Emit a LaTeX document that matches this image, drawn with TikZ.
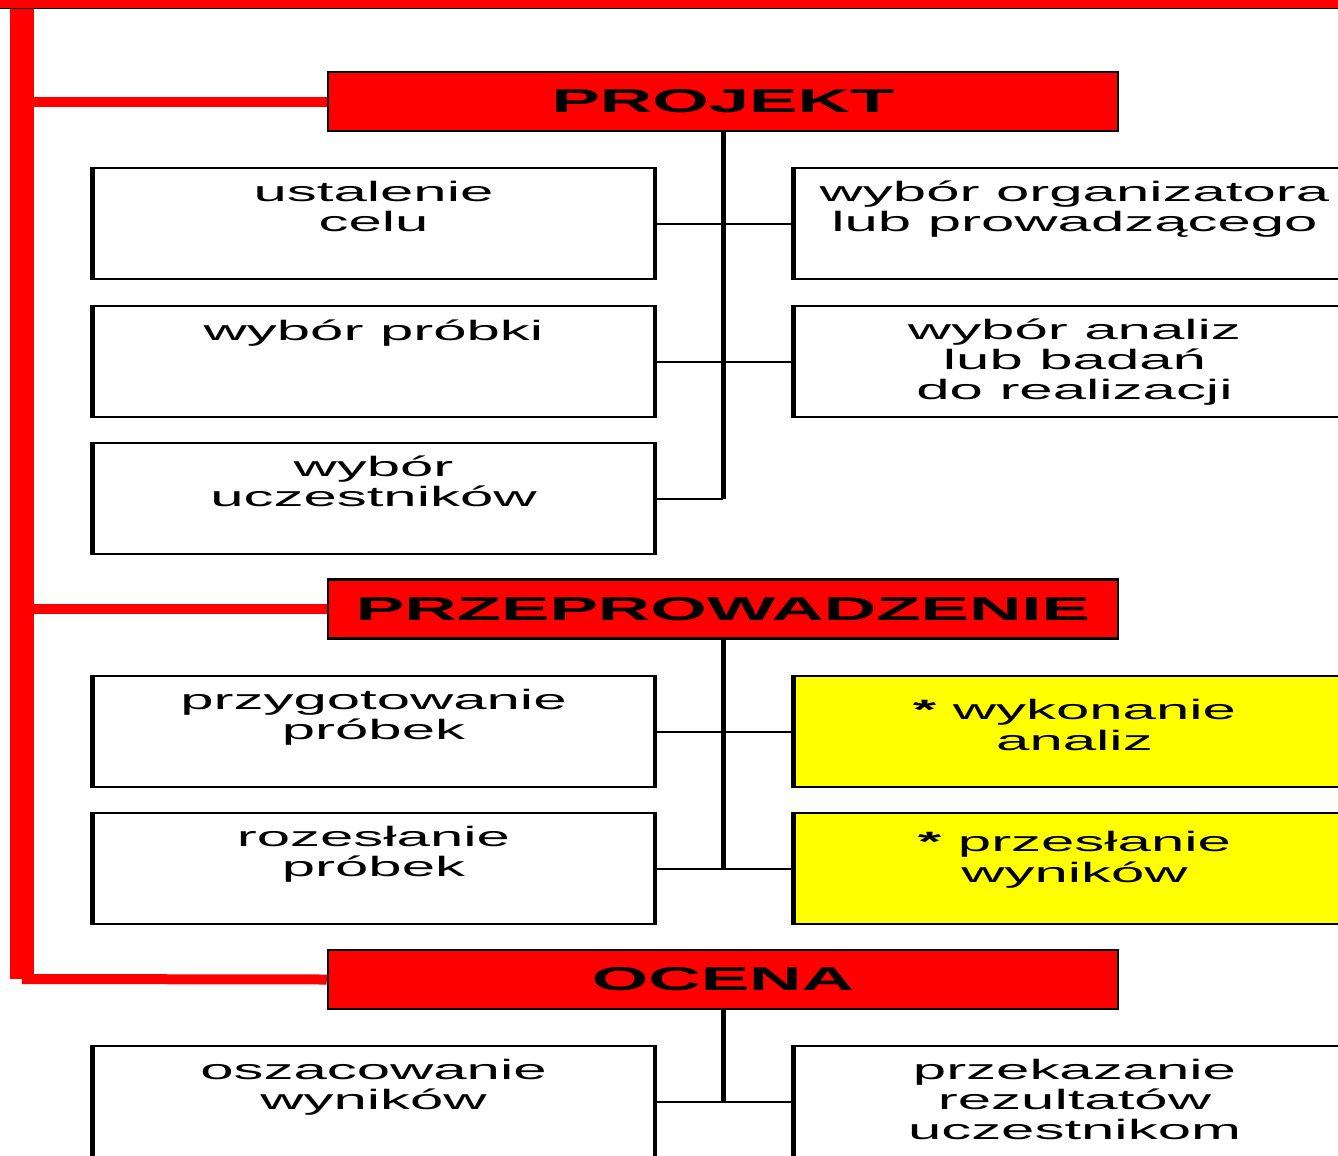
\documentclass[tikz,border=0pt]{standalone}
\usepackage{fontspec}
\usetikzlibrary{positioning}
\newfontfamily\taskfont[FakeStretch=2.14]{Liberation Sans}
\newfontfamily\headfont[FakeStretch=2.2]{Liberation Sans}
\definecolor{phasered}{RGB}{255,0,0}
\definecolor{keyyellow}{RGB}{255,255,0}

\begin{document}
\begin{tikzpicture}[
        x=1pt, y=-1pt,
        line width=2pt,
        head/.style={draw, fill=phasered, line width=2.5pt, minimum width=790pt, minimum height=59pt, inner sep=0pt,
            font=\headfont\fontsize{33}{36}\selectfont\bfseries},
        taskbox/.style={draw, fill=white, anchor=north west, minimum width=565pt, minimum height=111pt, inner sep=0pt,
            path picture={\draw[line width=7pt] (path picture bounding box.north west) -- (path picture bounding box.south west)
                (path picture bounding box.north east) -- (path picture bounding box.south east);}},
        tasktext/.style={anchor=north, align=center, inner sep=0pt, yshift=-13pt,
            font=\taskfont\fontsize{28}{30}\selectfont, execute at begin node=\strut},
        redline/.style={draw=phasered, line width=10pt},
        trunk/.style={line width=5pt}
    ]

    \clip (0,0) rectangle (1338,1156);

    % Red frame
    \fill[phasered] (-5,-5) rectangle (1343,8);
    \draw[line width=1.5pt] (-5,8.5) -- (1343,8.5);
    \coordinate (railtop) at (22,9);
    \coordinate (railbot) at (22,979);
    \draw[phasered, line width=24pt] (railtop) -- (railbot);

    % Phases
    \node[head] (projekt) at (723,101.5) {PROJEKT};
    \node[head] (prep) at (723,609) {PRZEPROWADZENIE};
    \node[head] (ocena) at (723,979.5) {OCENA};

    % Tasks
    \node[taskbox, label={[tasktext]north:{ustalenie\\celu}}] (cel) at (90,167) {};
    \node[taskbox, label={[tasktext]north:{wybór próbki}}] (proba) at (90,305) {};
    \node[taskbox, label={[tasktext]north:{wybór\\uczestników}}] (ucz) at (90,442) {};
    \node[taskbox, label={[tasktext]north:{wybór organizatora\\lub prowadzącego}}] (org) at (791,167) {};
    \node[taskbox, label={[tasktext]north:{wybór analiz\\lub badań\\do realizacji}}] (anal) at (791,305) {};

    \node[taskbox, label={[tasktext]north:{przygotowanie\\próbek}}] (przyg) at (90,675) {};
    \node[taskbox, label={[tasktext]north:{rozesłanie\\próbek}}] (rozes) at (90,812) {};
    \node[taskbox, fill=keyyellow, label={[tasktext, yshift=-10pt]north:{{\bfseries *}~wykonanie\\[1pt]analiz}}] (wyk) at (791,675) {};
    \node[taskbox, fill=keyyellow, label={[tasktext, yshift=-5pt]north:{{\bfseries *}~przesłanie\\[1pt]wyników}}] (przes) at (791,812) {};

    \node[taskbox, label={[tasktext]north:{oszacowanie\\wyników}}] (osz) at (90,1045) {};
    \node[taskbox, label={[tasktext]north:{przekazanie\\rezultatów\\uczestnikom}}] (przek) at (791,1045) {};

    % Edges
    \draw[redline] (railtop |- projekt.west) -- (projekt.west);
    \draw[redline] (railtop |- prep.west) -- (prep.west);
    \draw[redline] (railbot) -- (ocena.west);

    \draw (cel.east) -- (org.west);
    \draw (proba.east) -- (anal.west);
    \draw (ucz.east) -- (ucz.east -| projekt.south);
    \draw[trunk] (projekt.south) -- (projekt.south |- ucz.east);

    \draw (przyg.east) -- (wyk.west);
    \draw (rozes.east) -- (przes.west);
    \draw[trunk] (prep.south) -- (prep.south |- rozes.east);

    \draw (osz.east) -- (przek.west);
    \draw[trunk] (ocena.south) -- (ocena.south |- osz.east);

\end{tikzpicture}
\end{document}
